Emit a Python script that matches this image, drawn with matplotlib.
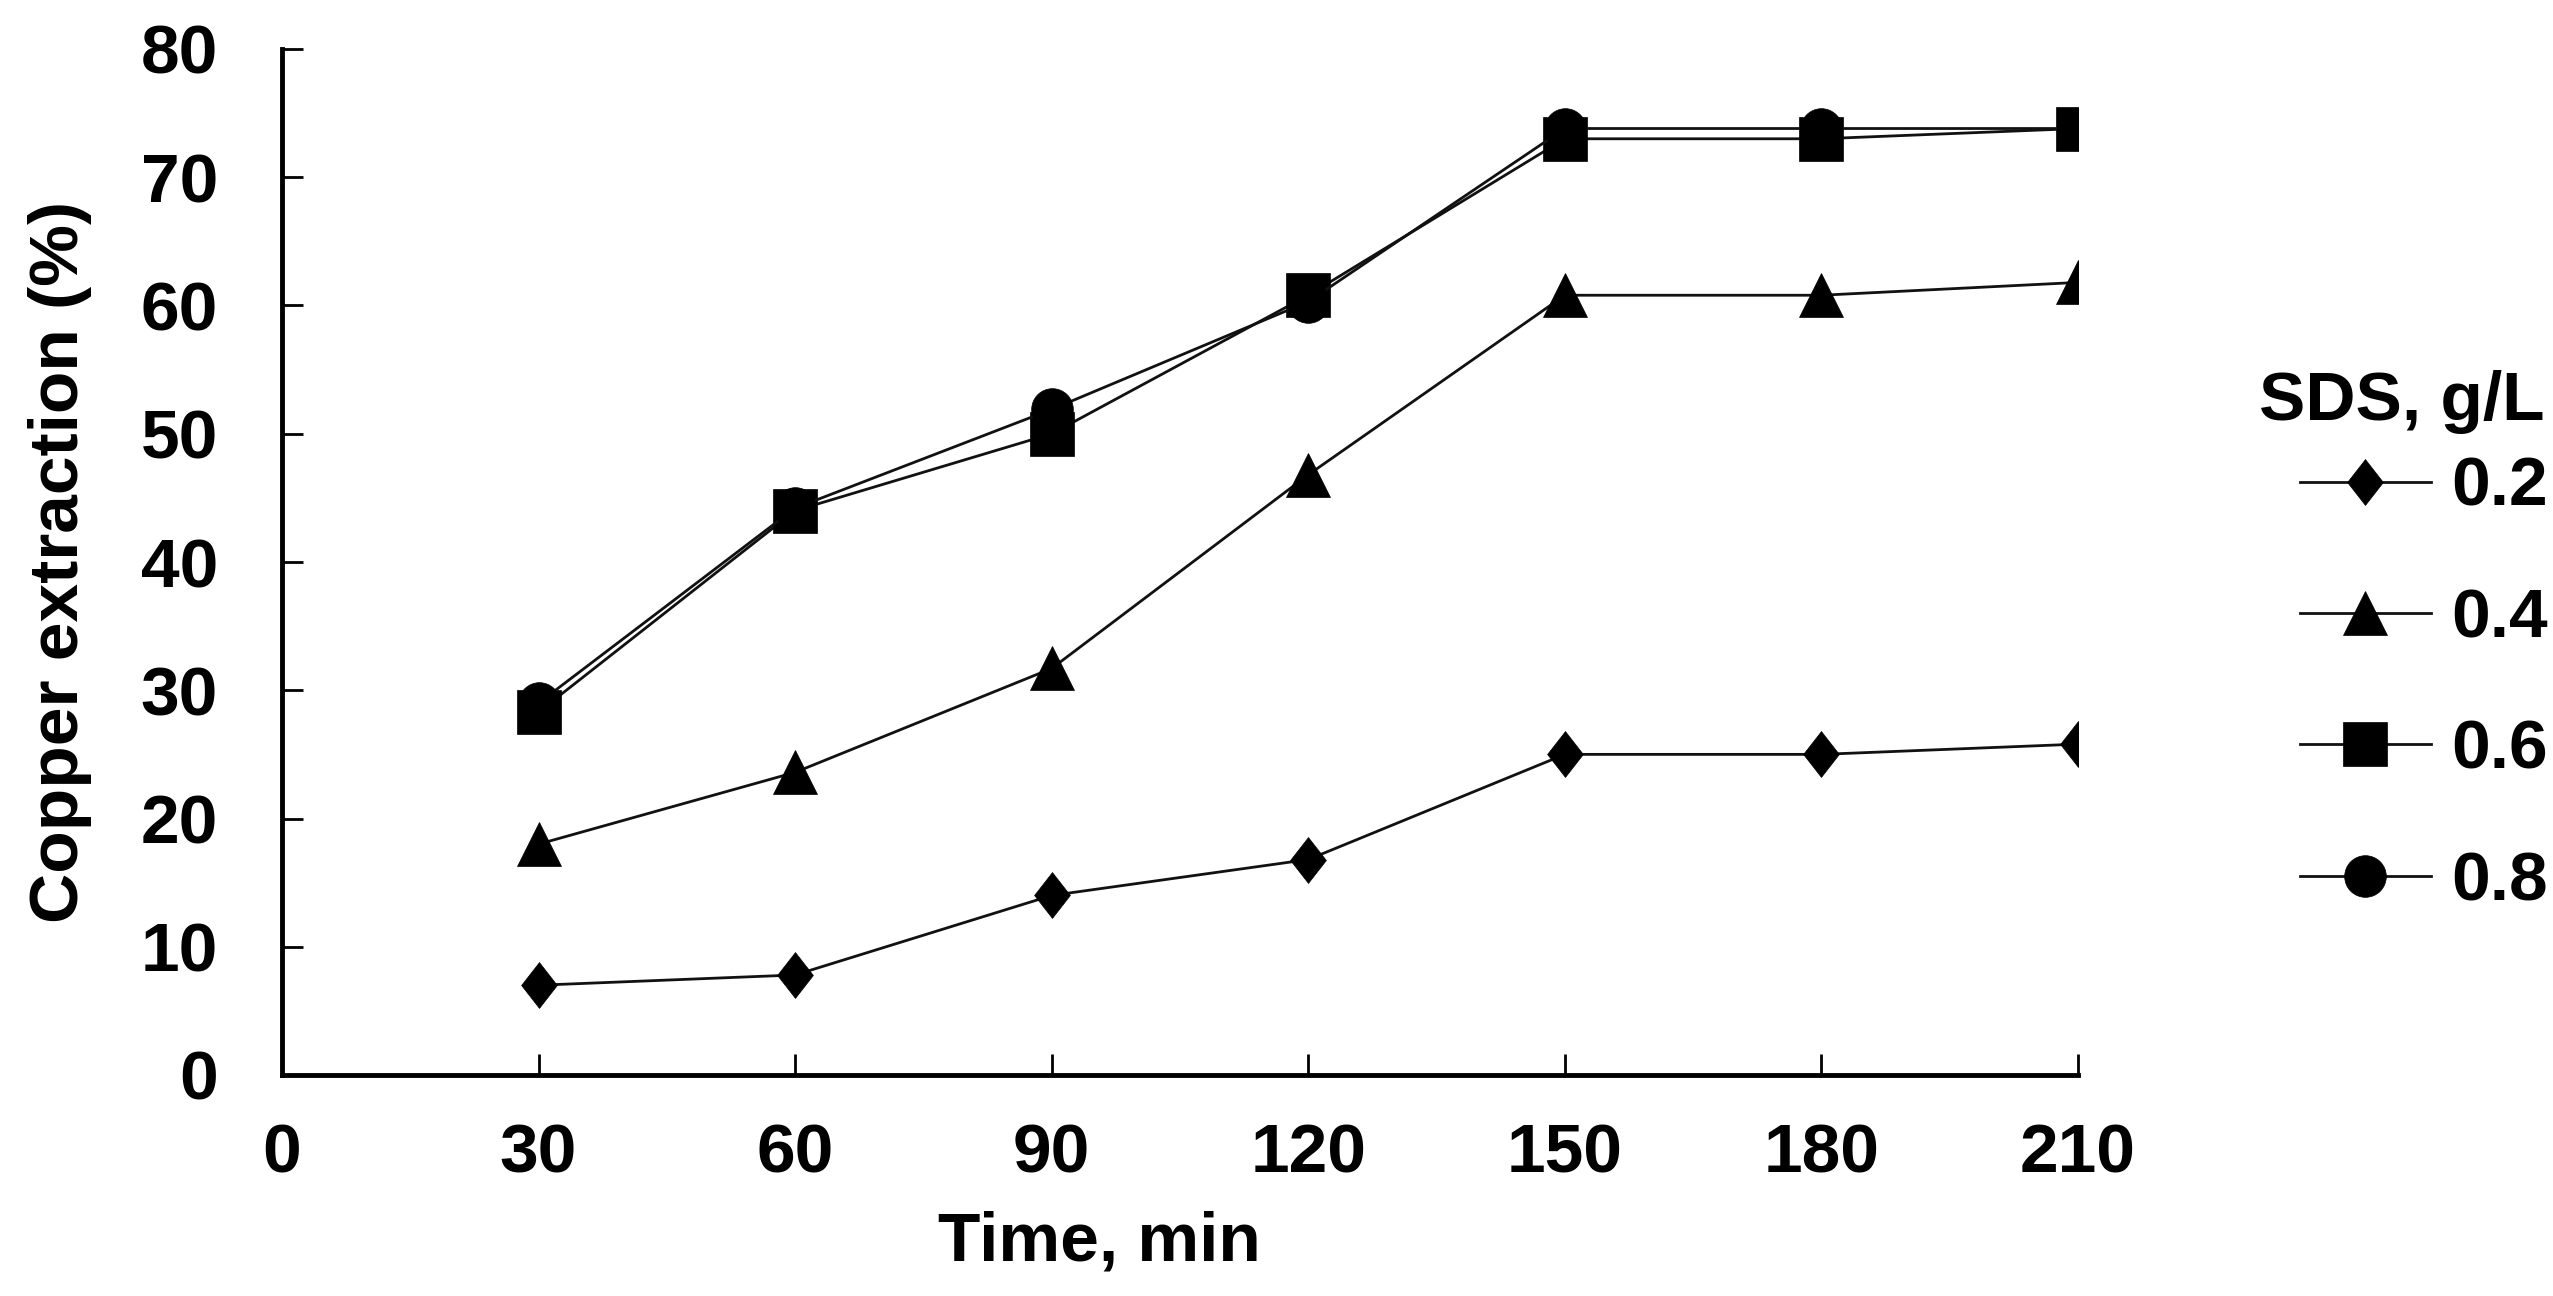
import matplotlib
matplotlib.use("Agg")
import matplotlib.pyplot as plt
from matplotlib.path import Path

# data
TIME = [30, 60, 90, 120, 150, 180, 210]
SDS_LEVELS = ["0.2", "0.4", "0.6", "0.8"]
CU_02 = [7.0, 7.8, 14.0, 16.8, 25.0, 25.0, 25.8]
CU_04 = [18.0, 23.6, 31.7, 46.8, 60.8, 60.8, 61.8]
CU_06 = [28.3, 44.0, 50.0, 60.8, 73.0, 73.0, 73.8]
CU_08 = [29.0, 44.2, 51.9, 60.3, 73.8, 73.8, 73.8]
X_TICKS = [0, 30, 60, 90, 120, 150, 180, 210]
Y_TICKS = [0, 10, 20, 30, 40, 50, 60, 70, 80]

plt.rcParams["font.family"] = ["Liberation Sans", "DejaVu Sans"]
plt.rcParams["font.weight"] = "bold"
plt.rcParams["font.size"] = 50

W, H = 2553, 1296
fig = plt.figure(figsize=(W / 100, H / 100), dpi=100)
# axes box in pixels: x 282..2078, y 49..1075
ax = fig.add_axes([282 / W, 1 - 1075 / H, 1796 / W, 1026 / H])

# taller-than-wide diamond like the Excel one
diamond = Path([(0, 1), (0.78, 0), (0, -1), (-0.78, 0), (0, 1)],
               [Path.MOVETO, Path.LINETO, Path.LINETO, Path.LINETO, Path.CLOSEPOLY])

series = [CU_02, CU_04, CU_06, CU_08]
markers = [diamond, "^", "s", "o"]
sizes = [33, 31, 31, 30]
for vals, mk, ms, lab in zip(series, markers, sizes, SDS_LEVELS):
    ax.plot(TIME, vals, color="#111111", lw=2.0, marker=mk, markersize=ms,
            markerfacecolor="black", markeredgecolor="black", markeredgewidth=0.5,
            label=lab)

ax.set_xlim(0, 210)
ax.set_ylim(0, 80)
ax.set_xticks(X_TICKS)
ax.set_yticks(Y_TICKS)
ax.spines["top"].set_visible(False)
ax.spines["right"].set_visible(False)
ax.spines["left"].set_linewidth(3.5)
ax.spines["bottom"].set_linewidth(3.5)
ax.tick_params(axis="both", direction="in", length=15, width=2, labelsize=50)
ax.tick_params(axis="x", pad=34)
ax.tick_params(axis="y", pad=46)

ax.set_ylabel("Copper extraction (%)", fontsize=50, fontweight="bold")
ax.yaxis.set_label_coords(-0.106, 0.5)
ax.set_xlabel("Time, min", fontsize=50, fontweight="bold")
ax.xaxis.set_label_coords(0.455, -0.132)

leg = ax.legend(loc="upper left", bbox_to_anchor=(2300 / W, 1 - 456 / H),
                bbox_transform=fig.transFigure, frameon=False, fontsize=50,
                handlelength=1.88, handletextpad=0.3, labelspacing=0.97,
                borderpad=0, borderaxespad=0)
fig.text(2402 / W, 1 - 402 / H, "SDS, g/L", ha="center", va="center",
         fontsize=50, fontweight="bold")

fig.savefig("out.png", dpi=100, facecolor="white")
